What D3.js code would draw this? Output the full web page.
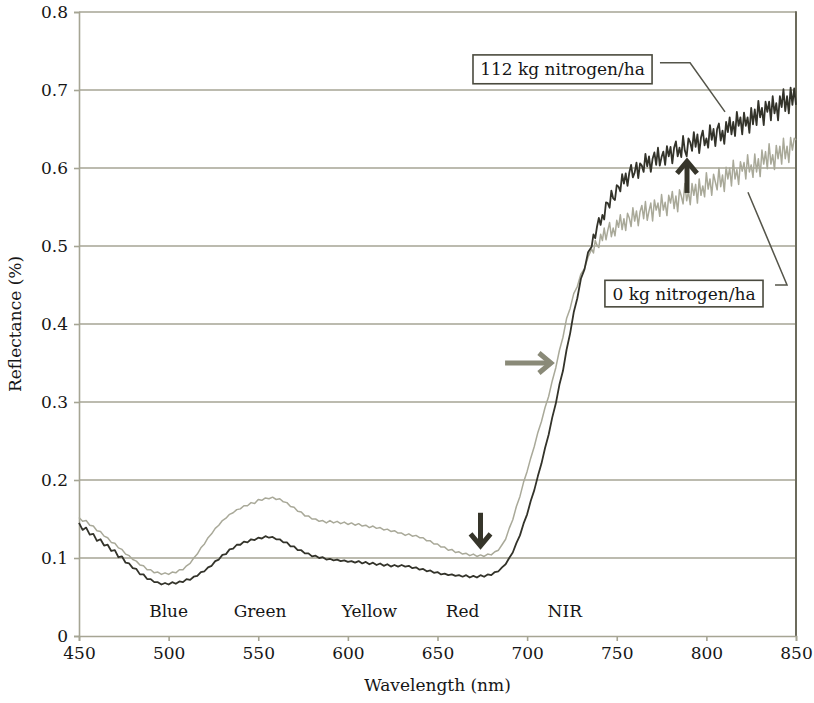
<!DOCTYPE html>
<html>
<head>
<meta charset="utf-8">
<script src="https://cdn.jsdelivr.net/npm/d3@7"></script>
<style>
  html, body { margin: 0; padding: 0; background: #fff; }
  svg text { font-family: "DejaVu Serif", serif; fill: #161616; }
</style>
</head>
<body>
<svg id="chart" width="814" height="703"></svg>
<script>
// ---- data (reflectance) ----
// visible part: 450-734 nm in 2 nm steps; NIR part: 736-850 nm in 1 nm steps
const wavelengthsVis = d3.range(450, 735, 2);
const wavelengthsNir = d3.range(736, 851, 1);

const reflect112Vis = [
  .145,.136,.139,.130,.131,.122,.124,.116,.117,.109,
  .110,.101,.102,.094,.093,.087,.086,.079,.079,.073,
  .073,.069,.069,.066,.068,.066,.069,.067,.070,.069,
  .073,.072,.076,.077,.082,.083,.088,.090,.096,.098,
  .104,.105,.111,.112,.117,.117,.121,.120,.124,.123,
  .126,.125,.128,.126,.127,.124,.124,.120,.120,.115,
  .115,.110,.110,.106,.106,.102,.103,.100,.101,.098,
  .099,.097,.098,.096,.097,.095,.096,.094,.096,.093,
  .095,.092,.094,.091,.093,.090,.092,.089,.091,.089,
  .091,.089,.090,.087,.088,.085,.086,.083,.084,.081,
  .082,.079,.080,.078,.079,.077,.078,.076,.078,.075,
  .077,.075,.078,.076,.079,.078,.082,.083,.088,.092,
  .100,.107,.119,.129,.144,.156,.173,.187,.205,.221,
  .241,.258,.280,.298,.322,.340,.367,.388,.415,.433,
  .458,.470,.492
];
const reflect112Nir = [
  .499,.515,.510,.525,.536,.527,.540,.534,.556,.555,
  .549,.571,.561,.559,.578,.576,.570,.592,.580,.593,
  .577,.594,.604,.588,.594,.607,.587,.606,.603,.595,
  .618,.602,.615,.595,.612,.620,.604,.626,.603,.614,
  .621,.604,.628,.615,.627,.606,.626,.634,.615,.626,
  .614,.641,.622,.615,.638,.633,.622,.646,.627,.643,
  .619,.639,.648,.629,.638,.626,.655,.636,.650,.628,
  .650,.657,.635,.648,.631,.659,.646,.665,.643,.659,
  .641,.672,.654,.665,.643,.671,.654,.665,.645,.677,
  .656,.675,.655,.686,.665,.677,.655,.685,.672,.685,
  .661,.692,.670,.683,.661,.692,.678,.701,.673,.692,
  .670,.703,.681,.702,.681
];

const reflect0Vis = [
  .152,.147,.148,.142,.141,.135,.134,.128,.126,.120,
  .119,.113,.111,.105,.103,.098,.096,.091,.090,.085,
  .085,.081,.082,.079,.081,.079,.082,.081,.085,.085,
  .090,.093,.100,.105,.113,.118,.126,.131,.138,.142,
  .148,.151,.156,.158,.162,.163,.167,.167,.171,.170,
  .175,.174,.177,.176,.178,.175,.176,.172,.171,.166,
  .165,.160,.159,.154,.154,.150,.150,.147,.148,.145,
  .148,.145,.147,.144,.146,.143,.145,.142,.144,.141,
  .142,.139,.141,.138,.139,.136,.137,.134,.135,.132,
  .132,.129,.131,.128,.129,.126,.126,.122,.122,.118,
  .118,.114,.114,.110,.111,.107,.108,.105,.106,.103,
  .105,.102,.104,.102,.105,.104,.108,.110,.117,.124,
  .138,.149,.166,.179,.197,.211,.228,.243,.261,.275,
  .293,.307,.327,.344,.366,.383,.407,.420,.439,.448,
  .464,.471,.486
];
const reflect0Nir = [
  .496,.491,.507,.501,.498,.515,.507,.523,.508,.520,
  .530,.512,.523,.513,.533,.524,.540,.521,.535,.520,
  .542,.536,.525,.549,.532,.545,.526,.544,.552,.535,
  .557,.533,.545,.555,.532,.559,.546,.555,.538,.566,
  .546,.556,.539,.565,.555,.570,.548,.564,.544,.572,
  .564,.554,.580,.558,.570,.553,.580,.565,.579,.555,
  .586,.565,.577,.563,.594,.573,.586,.565,.592,.582,
  .572,.600,.576,.591,.570,.601,.586,.600,.577,.610,
  .586,.598,.579,.608,.596,.607,.586,.617,.595,.604,
  .588,.618,.595,.612,.589,.623,.605,.621,.599,.631,
  .605,.617,.598,.629,.612,.628,.605,.638,.612,.628,
  .607,.639,.623,.638,.636
];

const xTicks = [450, 500, 550, 600, 650, 700, 750, 800, 850];
const yTicks = [0, 0.1, 0.2, 0.3, 0.4, 0.5, 0.6, 0.7, 0.8];
const yTickLabels = ["0", "0.1", "0.2", "0.3", "0.4", "0.5", "0.6", "0.7", "0.8"];

const bandNames = ["Blue", "Green", "Yellow", "Red", "NIR"];
const bandCenters = [500, 551, 612, 664, 721];
const bandLabelLevel = 0.024;

const legendLabels = ["112 kg nitrogen/ha", "0 kg nitrogen/ha"];
const legendBoxX = [[669.8, 769.7], [743.4, 831.6]];
const legendBoxY = [[0.745, 0.708], [0.456, 0.422]];
const leader112 = [[774.1, 0.735], [790.9, 0.735], [810.4, 0.672]];
const leader0 = [[838.3, 0.45], [845.0, 0.45], [823.2, 0.569]];

// arrows: [x1, y1, x2, y2] in data units (tail -> head)
const arrowDown = [674, 0.158, 674, 0.113];
const arrowUp = [789.2, 0.568, 789.2, 0.611];
const arrowRight = [687.7, 0.35, 714.4, 0.35];

// ---- drawing ----
const svg = d3.select("#chart");
const x = d3.scaleLinear().domain([450, 850]).range([79, 796]);
const y = d3.scaleLinear().domain([0, 0.8]).range([636, 12]);

const gridCol = "#a6a594";
const darkCol = "#33332a";
const lightCol = "#a9a999";

// gridlines
svg.append("g").selectAll("line").data(yTicks.filter(d => d > 0)).join("line")
  .attr("x1", x(450)).attr("x2", x(850))
  .attr("y1", d => y(d)).attr("y2", d => y(d))
  .attr("stroke", gridCol).attr("stroke-width", 1.6);

// right border
svg.append("line").attr("x1", x(850)).attr("x2", x(850))
  .attr("y1", y(0.8) - 0.8).attr("y2", y(0))
  .attr("stroke", "#6c6b5c").attr("stroke-width", 2);

// y axis
const yAxis = d3.axisLeft(y).tickValues(yTicks).tickSize(5).tickPadding(6)
  .tickFormat((d, i) => yTickLabels[i]);
const gy = svg.append("g").attr("transform", `translate(${x(450)},0)`).call(yAxis);
gy.select(".domain").attr("stroke", gridCol).attr("stroke-width", 1.6);
gy.selectAll(".tick line").attr("stroke", gridCol).attr("stroke-width", 1.6);
gy.selectAll(".tick text").attr("font-size", 17).attr("font-family", "DejaVu Serif").attr("fill", "#161616");

// x axis
const xAxis = d3.axisBottom(x).tickValues(xTicks).tickSize(5).tickPadding(6).tickFormat(d3.format("d"));
const gx = svg.append("g").attr("transform", `translate(0,${y(0)})`).call(xAxis);
gx.select(".domain").attr("stroke", gridCol).attr("stroke-width", 1.6);
gx.selectAll(".tick line").attr("stroke", gridCol).attr("stroke-width", 1.6);
gx.selectAll(".tick text").attr("font-size", 17).attr("font-family", "DejaVu Serif").attr("fill", "#161616");

// curves
const wl = wavelengthsVis.concat(wavelengthsNir);
const series0 = reflect0Vis.concat(reflect0Nir);
const series112 = reflect112Vis.concat(reflect112Nir);
const line = d3.line().x((d, i) => x(wl[i])).y(d => y(d));
svg.append("path").datum(series0).attr("d", line)
  .attr("fill", "none").attr("stroke", lightCol).attr("stroke-width", 1.5).attr("stroke-linejoin", "round");
svg.append("path").datum(series112).attr("d", line)
  .attr("fill", "none").attr("stroke", darkCol).attr("stroke-width", 1.8).attr("stroke-linejoin", "round");

// band labels
svg.append("g").selectAll("text").data(bandNames).join("text")
  .attr("x", (d, i) => x(bandCenters[i])).attr("y", y(bandLabelLevel))
  .attr("text-anchor", "middle").attr("font-size", 17).text(d => d);

// axis titles
svg.append("text").attr("x", (x(450) + x(850)) / 2).attr("y", 691)
  .attr("text-anchor", "middle").attr("font-size", 17).text("Wavelength (nm)");
svg.append("text").attr("transform", `translate(21,${(y(0) + y(0.8)) / 2}) rotate(-90)`)
  .attr("text-anchor", "middle").attr("font-size", 17).text("Reflectance (%)");

// leader lines
const leaderLine = d3.line().x(d => x(d[0])).y(d => y(d[1]));
[leader112, leader0].forEach(pts => {
  svg.append("path").attr("d", leaderLine(pts)).attr("fill", "none")
    .attr("stroke", "#55554a").attr("stroke-width", 1.5);
});

// legend boxes
legendLabels.forEach((lab, i) => {
  const x0 = x(legendBoxX[i][0]), x1 = x(legendBoxX[i][1]);
  const y0 = y(legendBoxY[i][0]), y1 = y(legendBoxY[i][1]);
  svg.append("rect").attr("x", x0).attr("y", y0).attr("width", x1 - x0).attr("height", y1 - y0)
    .attr("fill", "#fff").attr("stroke", "#4a4a3e").attr("stroke-width", 1.6);
  svg.append("text").attr("x", (x0 + x1) / 2).attr("y", (y0 + y1) / 2 + 6)
    .attr("text-anchor", "middle").attr("font-size", 17).text(lab);
});

// arrows
function drawArrow(a, col) {
  const x1 = x(a[0]), y1 = y(a[1]), x2 = x(a[2]), y2 = y(a[3]);
  const dx = x2 - x1, dy = y2 - y1, len = Math.hypot(dx, dy);
  const ux = dx / len, uy = dy / len, px = -uy, py = ux;
  const hl = 12, hw = 10;
  const tipX = x2 - ux * 2, tipY = y2 - uy * 2;
  svg.append("line").attr("x1", x1).attr("y1", y1).attr("x2", tipX - ux * 2).attr("y2", tipY - uy * 2)
    .attr("stroke", col).attr("stroke-width", 5);
  svg.append("path")
    .attr("d", `M${tipX - ux * hl + px * hw},${tipY - uy * hl + py * hw} L${tipX},${tipY} L${tipX - ux * hl - px * hw},${tipY - uy * hl - py * hw}`)
    .attr("fill", "none").attr("stroke", col).attr("stroke-width", 5).attr("stroke-linejoin", "miter");
}
drawArrow(arrowDown, "#36352a");
drawArrow(arrowUp, "#36352a");
drawArrow(arrowRight, "#8a8a78");
</script>
</body>
</html>
